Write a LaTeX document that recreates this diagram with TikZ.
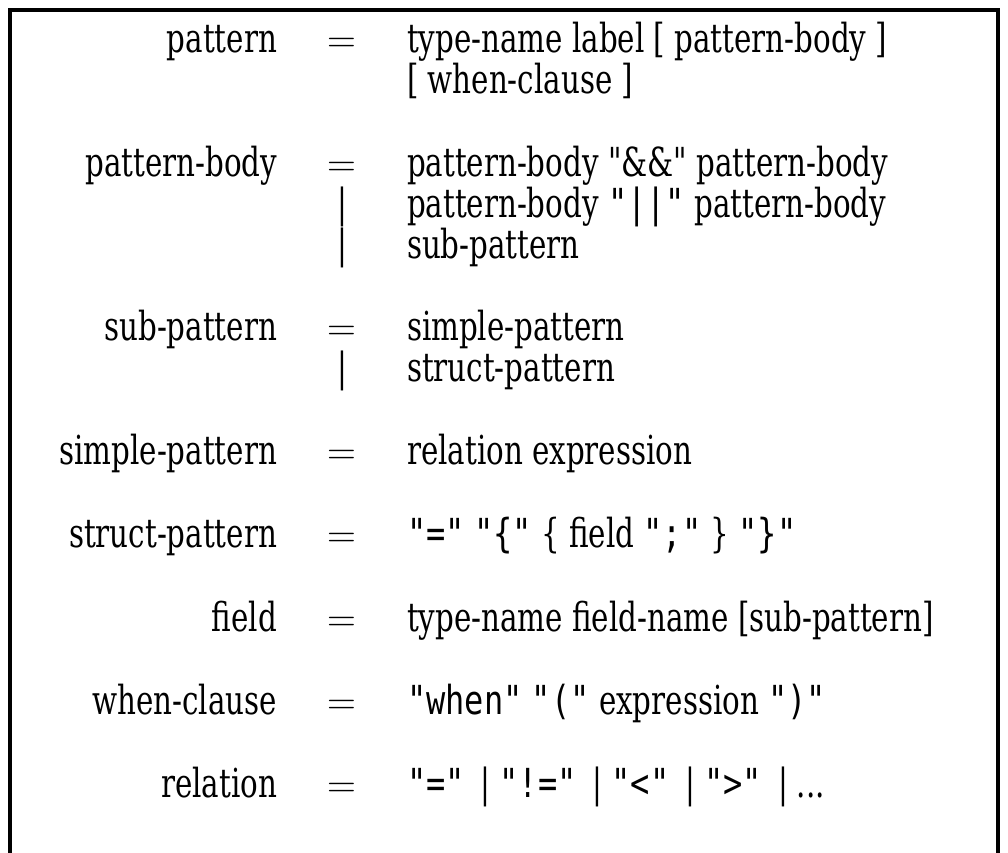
\documentclass[tikz,border=0pt]{standalone}
\usepackage{fontspec}
\setmainfont{DejaVu Serif}[FakeStretch=0.733]
\newfontfamily\plainf{DejaVu Serif}[FakeStretch=0.733]
\newfontfamily\monof{DejaVu Sans Mono}[FakeStretch=0.8]
\newfontfamily\lmf{Latin Modern Roman}
\begin{document}
\begin{tikzpicture}[x=1pt,y=-1pt,
  every node/.style={inner sep=0pt,outer sep=0pt,font=\fontsize{40}{48}\selectfont},
  lhs/.style={anchor=base east},
  eqs/.style={anchor=base},
  rhs/.style={anchor=base west},
  frame/.style={line width=3.5pt}]
\useasboundingbox (0,0) rectangle (1008,852);
\draw[frame] (10,854) -- (10,10) -- (998,10) -- (998,854);
\newcommand\mq[1]{{\monof #1}}
\newcommand\alt{\hspace{16pt}|\hspace{9pt}}
\newcommand\eqsign{{\lmf =}}
% pattern
\node[lhs] (l1) at (277,52) {pattern};
\node[eqs] (e1) at (342,52) {\eqsign};
\node[rhs] (r1) at (407,52) {type-name label [ pattern-body ]};
\node[rhs] (r1b) at (407,93) {[ when-clause ]};
% pattern-body
\node[lhs] (l2) at (277,176) {pattern-body};
\node[eqs] (e2) at (342,176) {\eqsign};
\node[rhs] (r2) at (407,176) {pattern-body {\plainf"\&\&"} pattern-body};
\node[eqs] (e2b) at (342,217) {|};
\node[rhs] (r2b) at (407,217) {pattern-body \mq{"||"} pattern-body};
\node[eqs] (e2c) at (342,258) {|};
\node[rhs] (r2c) at (407,258) {sub-pattern};
% sub-pattern
\node[lhs] (l3) at (277,340) {sub-pattern};
\node[eqs] (e3) at (342,340) {\eqsign};
\node[rhs] (r3) at (407,340) {simple-pattern};
\node[eqs] (e3b) at (342,381) {|};
\node[rhs] (r3b) at (407,381) {struct-pattern};
% simple-pattern
\node[lhs] (l4) at (277,464) {simple-pattern};
\node[eqs] (e4) at (342,464) {\eqsign};
\node[rhs] (r4) at (407,464) {relation expression};
% struct-pattern
\node[lhs] (l5) at (277,547) {struct-pattern};
\node[eqs] (e5) at (342,547) {\eqsign};
\node[rhs] (r5) at (407,547) {\mq{"="} \mq{"\{"} \{ field \mq{";"} \} \mq{"\}"}};
% field
\node[lhs] (l6) at (277,631) {field};
\node[eqs] (e6) at (342,631) {\eqsign};
\node[rhs] (r6) at (407,631) {type-name field-name [sub-pattern]};
% when-clause
\node[lhs] (l7) at (277,714) {when-clause};
\node[eqs] (e7) at (342,714) {\eqsign};
\node[rhs] (r7) at (407,714) {\mq{"when"} \mq{"("} expression \mq{")"}};
% relation
\node[lhs] (l8) at (277,797) {relation};
\node[eqs] (e8) at (342,797) {\eqsign};
\node[rhs] (r8) at (407,797) {\mq{"="}\alt\mq{"!="}\alt\mq{"<"}\alt\mq{">"}\alt...};
\end{tikzpicture}
\end{document}
